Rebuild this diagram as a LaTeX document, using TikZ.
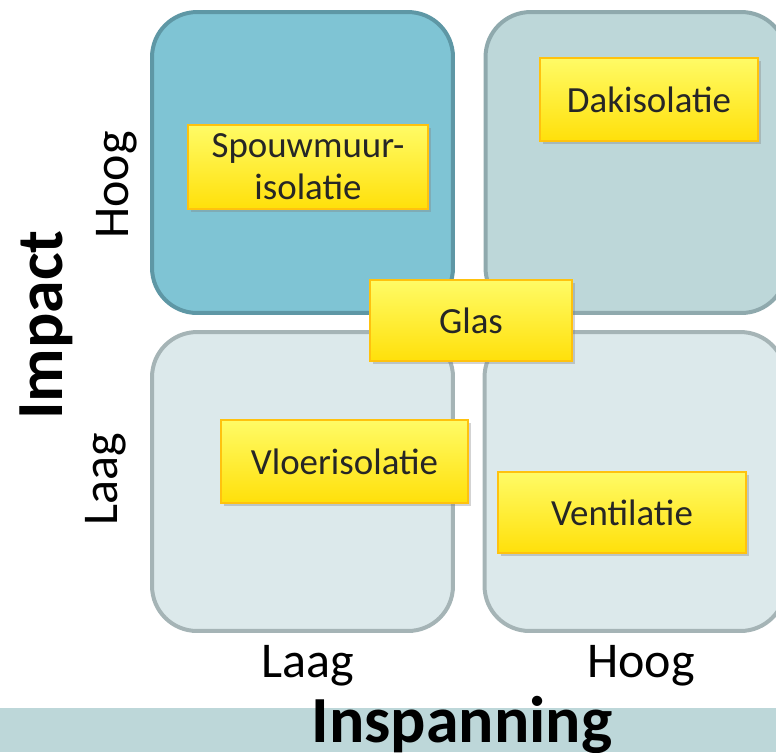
\documentclass[tikz,border=0pt]{standalone}
\usepackage{fontspec}
\setmainfont{Carlito}
\usepackage{xcolor}
\usetikzlibrary{shadows, positioning}

\definecolor{hoogfill}{HTML}{7FC4D4}
\definecolor{hoogline}{HTML}{5E97A5}
\definecolor{midfill}{HTML}{BDD7D9}
\definecolor{midline}{HTML}{8FA9AD}
\definecolor{laagfill}{HTML}{DCE9EB}
\definecolor{laagline}{HTML}{A5B4B6}
\definecolor{notetop}{HTML}{FFFB66}
\definecolor{notebottom}{HTML}{FFE00A}
\definecolor{noteline}{HTML}{FFC20E}

\begin{document}
\begin{tikzpicture}[x=0.02cm, y=-0.02cm,
    quad/.style={rectangle, rounded corners=0.9cm, line width=0.08cm, minimum width=6.02cm, minimum height=6.02cm},
    note/.style={rectangle, draw=noteline, line width=1pt, top color=notetop, bottom color=notebottom,
        drop shadow={shadow xshift=1.5pt, shadow yshift=-1.5pt, opacity=0.35}, text=black!85,
        font=\fontsize{21}{24}\selectfont, align=center, inner sep=0pt},
    axis/.style={font=\fontsize{28.5}{30}\selectfont, anchor=base},
    title/.style={font=\bfseries\fontsize{37.5}{40}\selectfont, anchor=base}]

    \clip (0,0) rectangle (776,752);
    \useasboundingbox (0,0) rectangle (776,752);

    \node [quad, fill=hoogfill, draw=hoogline] (hooglaag) at (302.5,162.5) {};
    \node [quad, fill=midfill, draw=midline] (hooghoog) at (636,162.5) {};
    \node [quad, fill=laagfill, draw=laagline, minimum height=5.98cm] (laaglaag) at (302.5,481.5) {};
    \node [quad, fill=laagfill, draw=laagline, minimum height=5.98cm] (laaghoog) at (635,481.5) {};

    \node [note, minimum width=4.8cm, minimum height=1.68cm] (spouw) at (308,167) {Spouwmuur-\\isolatie};
    \node [note, minimum width=4.36cm, minimum height=1.66cm] (dak) at (649,99.5) {Dakisolatie};
    \node [note, minimum width=4.04cm, minimum height=1.62cm] (glas) at (471,320.5) {Glas};
    \node [note, minimum width=4.94cm, minimum height=1.66cm] (vloer) at (344.5,461.5) {Vloerisolatie};
    \node [note, minimum width=4.96cm, minimum height=1.62cm] (vent) at (622,512.5) {Ventilatie};

    \node [axis, rotate=90] (impacthoog) at (128,185) {Hoog};
    \node [axis, rotate=90] (impactlaag) at (117,479) {Laag};
    \node [title, rotate=90] (impact) at (62,325) {Impact};

    \node [axis] (inspanninglaag) at (308,677) {Laag};
    \node [axis] (inspanninghoog) at (641,677) {Hoog};

    \fill [midfill] (0,708) rectangle (776,752);
    \node [title] (inspanning) at (462,742) {Inspanning};
\end{tikzpicture}
\end{document}
